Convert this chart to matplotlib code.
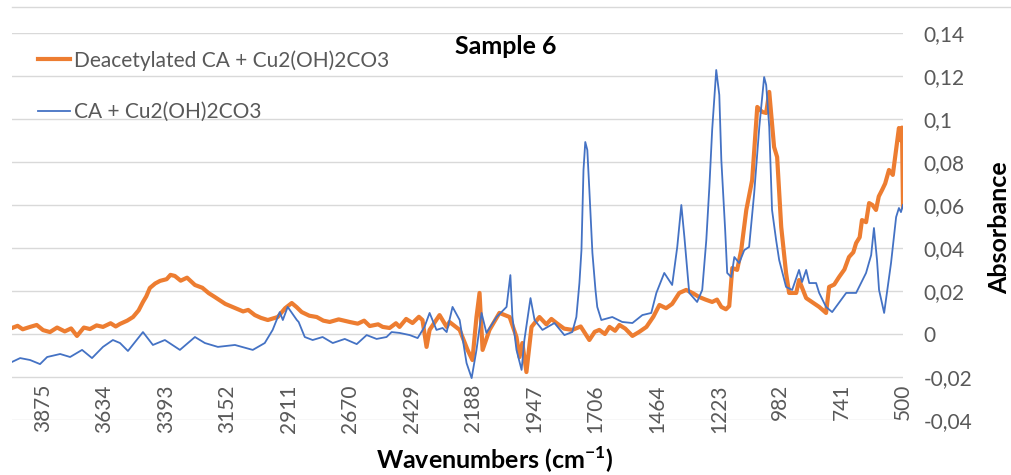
import matplotlib
matplotlib.use("Agg")
import matplotlib.pyplot as plt
from matplotlib.lines import Line2D

plt.rcParams['font.family'] = ['Lato', 'DejaVu Sans']
plt.rcParams['mathtext.fontset'] = 'custom'
plt.rcParams['mathtext.rm'] = 'Lato'
plt.rcParams['mathtext.bf'] = 'Lato:bold'

# Deacetylated CA + Cu2(OH)2CO3 (orange)
wn_deac = [3997, 3975, 3955, 3926, 3900, 3875, 3848, 3820, 3790, 3765, 3742, 3715,
           3691, 3665, 3640, 3610, 3590, 3573, 3545, 3522, 3500, 3483, 3470, 3456,
           3435, 3416, 3390, 3375, 3358, 3335, 3310, 3279, 3250, 3225, 3201, 3160,
           3122, 3090, 3070, 3044, 3020, 2993, 2954, 2925, 2899, 2880, 2860, 2830,
           2801, 2775, 2750, 2715, 2672, 2640, 2615, 2593, 2560, 2542, 2515, 2490,
           2476, 2450, 2425, 2400, 2386, 2370, 2358, 2319, 2291, 2280, 2240, 2209,
           2190, 2174, 2162, 2150, 2123, 2084, 2044, 2017, 2005, 1994, 1978, 1958,
           1927, 1900, 1880, 1860, 1830, 1798, 1765, 1731, 1710, 1692, 1670, 1652,
           1630, 1613, 1590, 1562, 1535, 1507, 1480, 1456, 1430, 1406, 1378, 1351,
           1325, 1300, 1275, 1249, 1230, 1213, 1195, 1182, 1170, 1151, 1135, 1115,
           1092, 1072, 1053, 1037, 1025, 1006, 994, 978, 959, 947, 919, 908, 880,
           829, 802, 790, 770, 751, 730, 712, 695, 684, 670, 661, 645, 633, 620,
           606, 595, 582, 570, 555, 540, 527, 516, 508, 504, 500]
ab_deac = [0.0028, 0.0038, 0.0022, 0.0033, 0.0042, 0.0018, 0.0009, 0.0030, 0.0012,
           0.0026, -0.0009, 0.0030, 0.0023, 0.0040, 0.0033, 0.0050, 0.0035, 0.0047,
           0.0062, 0.0079, 0.0110, 0.0149, 0.0175, 0.0214, 0.0235, 0.0247, 0.0255,
           0.0275, 0.0270, 0.0248, 0.0262, 0.0228, 0.0215, 0.0190, 0.0172, 0.0140,
           0.0121, 0.0105, 0.0112, 0.0088, 0.0075, 0.0065, 0.0079, 0.0120, 0.0144,
           0.0125, 0.0102, 0.0085, 0.0079, 0.0062, 0.0056, 0.0068, 0.0056, 0.0048,
           0.0062, 0.0037, 0.0045, 0.0033, 0.0028, 0.0050, 0.0033, 0.0070, 0.0051,
           0.0080, 0.0065, -0.0060, 0.0019, 0.0088, 0.0033, 0.0056, 0.0019, -0.0074,
           -0.0121, 0.0079, 0.0191, -0.0074, 0.0019, 0.0098, 0.0079, -0.0014, -0.0107,
           -0.0042, -0.0177, 0.0033, 0.0079, 0.0045, 0.0070, 0.0051, 0.0025, 0.0019,
           0.0035, -0.0028, 0.0010, 0.0019, 0.0000, 0.0033, 0.0015, 0.0042, 0.0025,
           -0.0009, 0.0010, 0.0033, 0.0080, 0.0135, 0.0120, 0.0140, 0.0191, 0.0205,
           0.0190, 0.0172, 0.0160, 0.0149, 0.0160, 0.0126, 0.0115, 0.0130, 0.0307,
           0.0298, 0.0390, 0.0577, 0.0716, 0.1056, 0.1033, 0.1028, 0.1126, 0.0870,
           0.0823, 0.0498, 0.0284, 0.0191, 0.0191, 0.0251, 0.0167, 0.0126, 0.0098,
           0.0219, 0.0230, 0.0265, 0.0300, 0.0358, 0.0380, 0.0423, 0.0450, 0.0530,
           0.0520, 0.0609, 0.0600, 0.0577, 0.0640, 0.0670, 0.0700, 0.0763, 0.0740,
           0.0856, 0.0958, 0.0900, 0.0960, 0.0590]

# CA + Cu2(OH)2CO3 (blue)
wn_ca = [3997, 3965, 3926, 3887, 3859, 3808, 3769, 3722, 3683, 3640, 3601, 3573,
         3542, 3514, 3483, 3444, 3416, 3397, 3338, 3279, 3240, 3189, 3122, 3052,
         3005, 2974, 2946, 2934, 2915, 2879, 2872, 2848, 2817, 2778, 2738, 2691,
         2644, 2605, 2566, 2527, 2507, 2476, 2436, 2405, 2378, 2358, 2331, 2307,
         2291, 2268, 2240, 2213, 2193, 2174, 2154, 2135, 2095, 2056, 2041, 2033,
         2017, 1997, 1986, 1962, 1946, 1915, 1868, 1829, 1798, 1782, 1770, 1762,
         1754, 1747, 1739, 1731, 1719, 1707, 1700, 1684, 1641, 1602, 1562, 1523,
         1488, 1468, 1437, 1406, 1386, 1370, 1358, 1339, 1308, 1288, 1272, 1260,
         1249, 1241, 1233, 1221, 1213, 1198, 1190, 1174, 1162, 1143, 1123, 1104,
         1084, 1064, 1045, 1037, 1025, 1014, 998, 986, 959, 935, 908, 896, 880,
         868, 841, 829, 802, 778, 723, 684, 645, 625, 614, 602, 594, 574, 547,
         527, 516, 508, 500]
ab_ca = [-0.0130, -0.0112, -0.0121, -0.0140, -0.0107, -0.0093, -0.0107, -0.0074,
         -0.0112, -0.0060, -0.0028, -0.0042, -0.0079, -0.0037, 0.0009, -0.0051,
         -0.0037, -0.0028, -0.0074, -0.0014, -0.0042, -0.0060, -0.0051, -0.0074,
         -0.0042, 0.0019, 0.0102, 0.0065, 0.0126, 0.0065, 0.0056, -0.0014, -0.0028,
         -0.0014, -0.0042, -0.0023, -0.0047, -0.0005, -0.0023, -0.0014, 0.0009,
         0.0005, -0.0005, -0.0019, 0.0033, 0.0098, 0.0019, 0.0028, 0.0009, 0.0126,
         0.0065, -0.0135, -0.0205, -0.0074, 0.0098, 0.0005, 0.0079, 0.0126, 0.0274,
         0.0079, -0.0074, -0.0167, -0.0028, 0.0167, 0.0065, 0.0019, 0.0051, -0.0005,
         0.0009, 0.0079, 0.0237, 0.0390, 0.0763, 0.0893, 0.0856, 0.0670, 0.0377,
         0.0205, 0.0126, 0.0065, 0.0079, 0.0056, 0.0051, 0.0088, 0.0098, 0.0191,
         0.0284, 0.0228, 0.0405, 0.0600, 0.0451, 0.0191, 0.0149, 0.0205, 0.0437,
         0.0684, 0.0949, 0.1088, 0.1228, 0.1112, 0.0809, 0.0484, 0.0284, 0.0265,
         0.0358, 0.0330, 0.0390, 0.0405, 0.0656, 0.0963, 0.1195, 0.1158, 0.0963,
         0.0577, 0.0437, 0.0344, 0.0219, 0.0205, 0.0298, 0.0242, 0.0298, 0.0237,
         0.0237, 0.0191, 0.0126, 0.0102, 0.0191, 0.0191, 0.0284, 0.0367, 0.0493,
         0.0344, 0.0205, 0.0098, 0.0330, 0.0544, 0.0586, 0.0567, 0.0600]

x_ticks = [3875, 3634, 3393, 3152, 2911, 2670, 2429, 2188, 1947, 1706, 1464, 1223, 982, 741, 500]
y_ticks = [-0.04, -0.02, 0, 0.02, 0.04, 0.06, 0.08, 0.1, 0.12, 0.14]
y_labels = ["-0,04", "-0,02", "0", "0,02", "0,04", "0,06", "0,08", "0,1", "0,12", "0,14"]

grey = '#595959'

fig = plt.figure(figsize=(10.11, 4.75), dpi=100)
ax = fig.add_axes([12 / 1011, 1 - 420 / 475, 891 / 1011, 387 / 475])

ax.plot(wn_deac, ab_deac, color='#ED7D31', lw=3.0, label='Deacetylated CA + Cu2(OH)2CO3')
ax.plot(wn_ca, ab_ca, color='#4472C4', lw=1.3, label='CA + Cu2(OH)2CO3')

ax.set_xlim(3997, 500)
ax.set_ylim(-0.04, 0.14)
ax.set_xticks([])
ax.set_yticks(y_ticks)
ax.set_yticklabels(y_labels)
ax.yaxis.tick_right()
ax.tick_params(axis='y', length=0, pad=15, labelsize=15, labelcolor=grey)
ax.grid(axis='y', color='#d9d9d9', lw=1.0)
ax.set_axisbelow(True)
for s in ax.spines.values():
    s.set_visible(False)

# category labels sit inside the plot, just under -0,02
for w in x_ticks:
    ax.text(w, -0.0233, str(w), rotation=90, ha='center', va='top',
            fontsize=15, color=grey, clip_on=False)

leg = ax.legend(loc='upper left', bbox_to_anchor=(38 / 1011, 1 - 50 / 475),
                bbox_transform=fig.transFigure, frameon=False, fontsize=15,
                handlelength=1.55, handletextpad=0.2, labelspacing=1.5,
                borderpad=0, borderaxespad=0)
for t in leg.get_texts():
    t.set_color(grey)

fig.text(506 / 1011, 1 - 47 / 475, 'Sample 6', ha='center', va='center',
         fontsize=18, fontweight='bold')
fig.text(495 / 1011, 1 - 460 / 475, r'Wavenumbers (cm$^{\mathbf{-1}}$)', ha='center',
         va='center', fontsize=18, fontweight='bold')
fig.text(1000 / 1011, 1 - 228 / 475, 'Absorbance', ha='center', va='center',
         rotation=90, fontsize=18, fontweight='bold')

fig.add_artist(Line2D([12 / 1011, 1.0], [1 - 7 / 475, 1 - 7 / 475],
                      transform=fig.transFigure, color='#d9d9d9', lw=1.0))

fig.savefig('out.png', dpi=100)
